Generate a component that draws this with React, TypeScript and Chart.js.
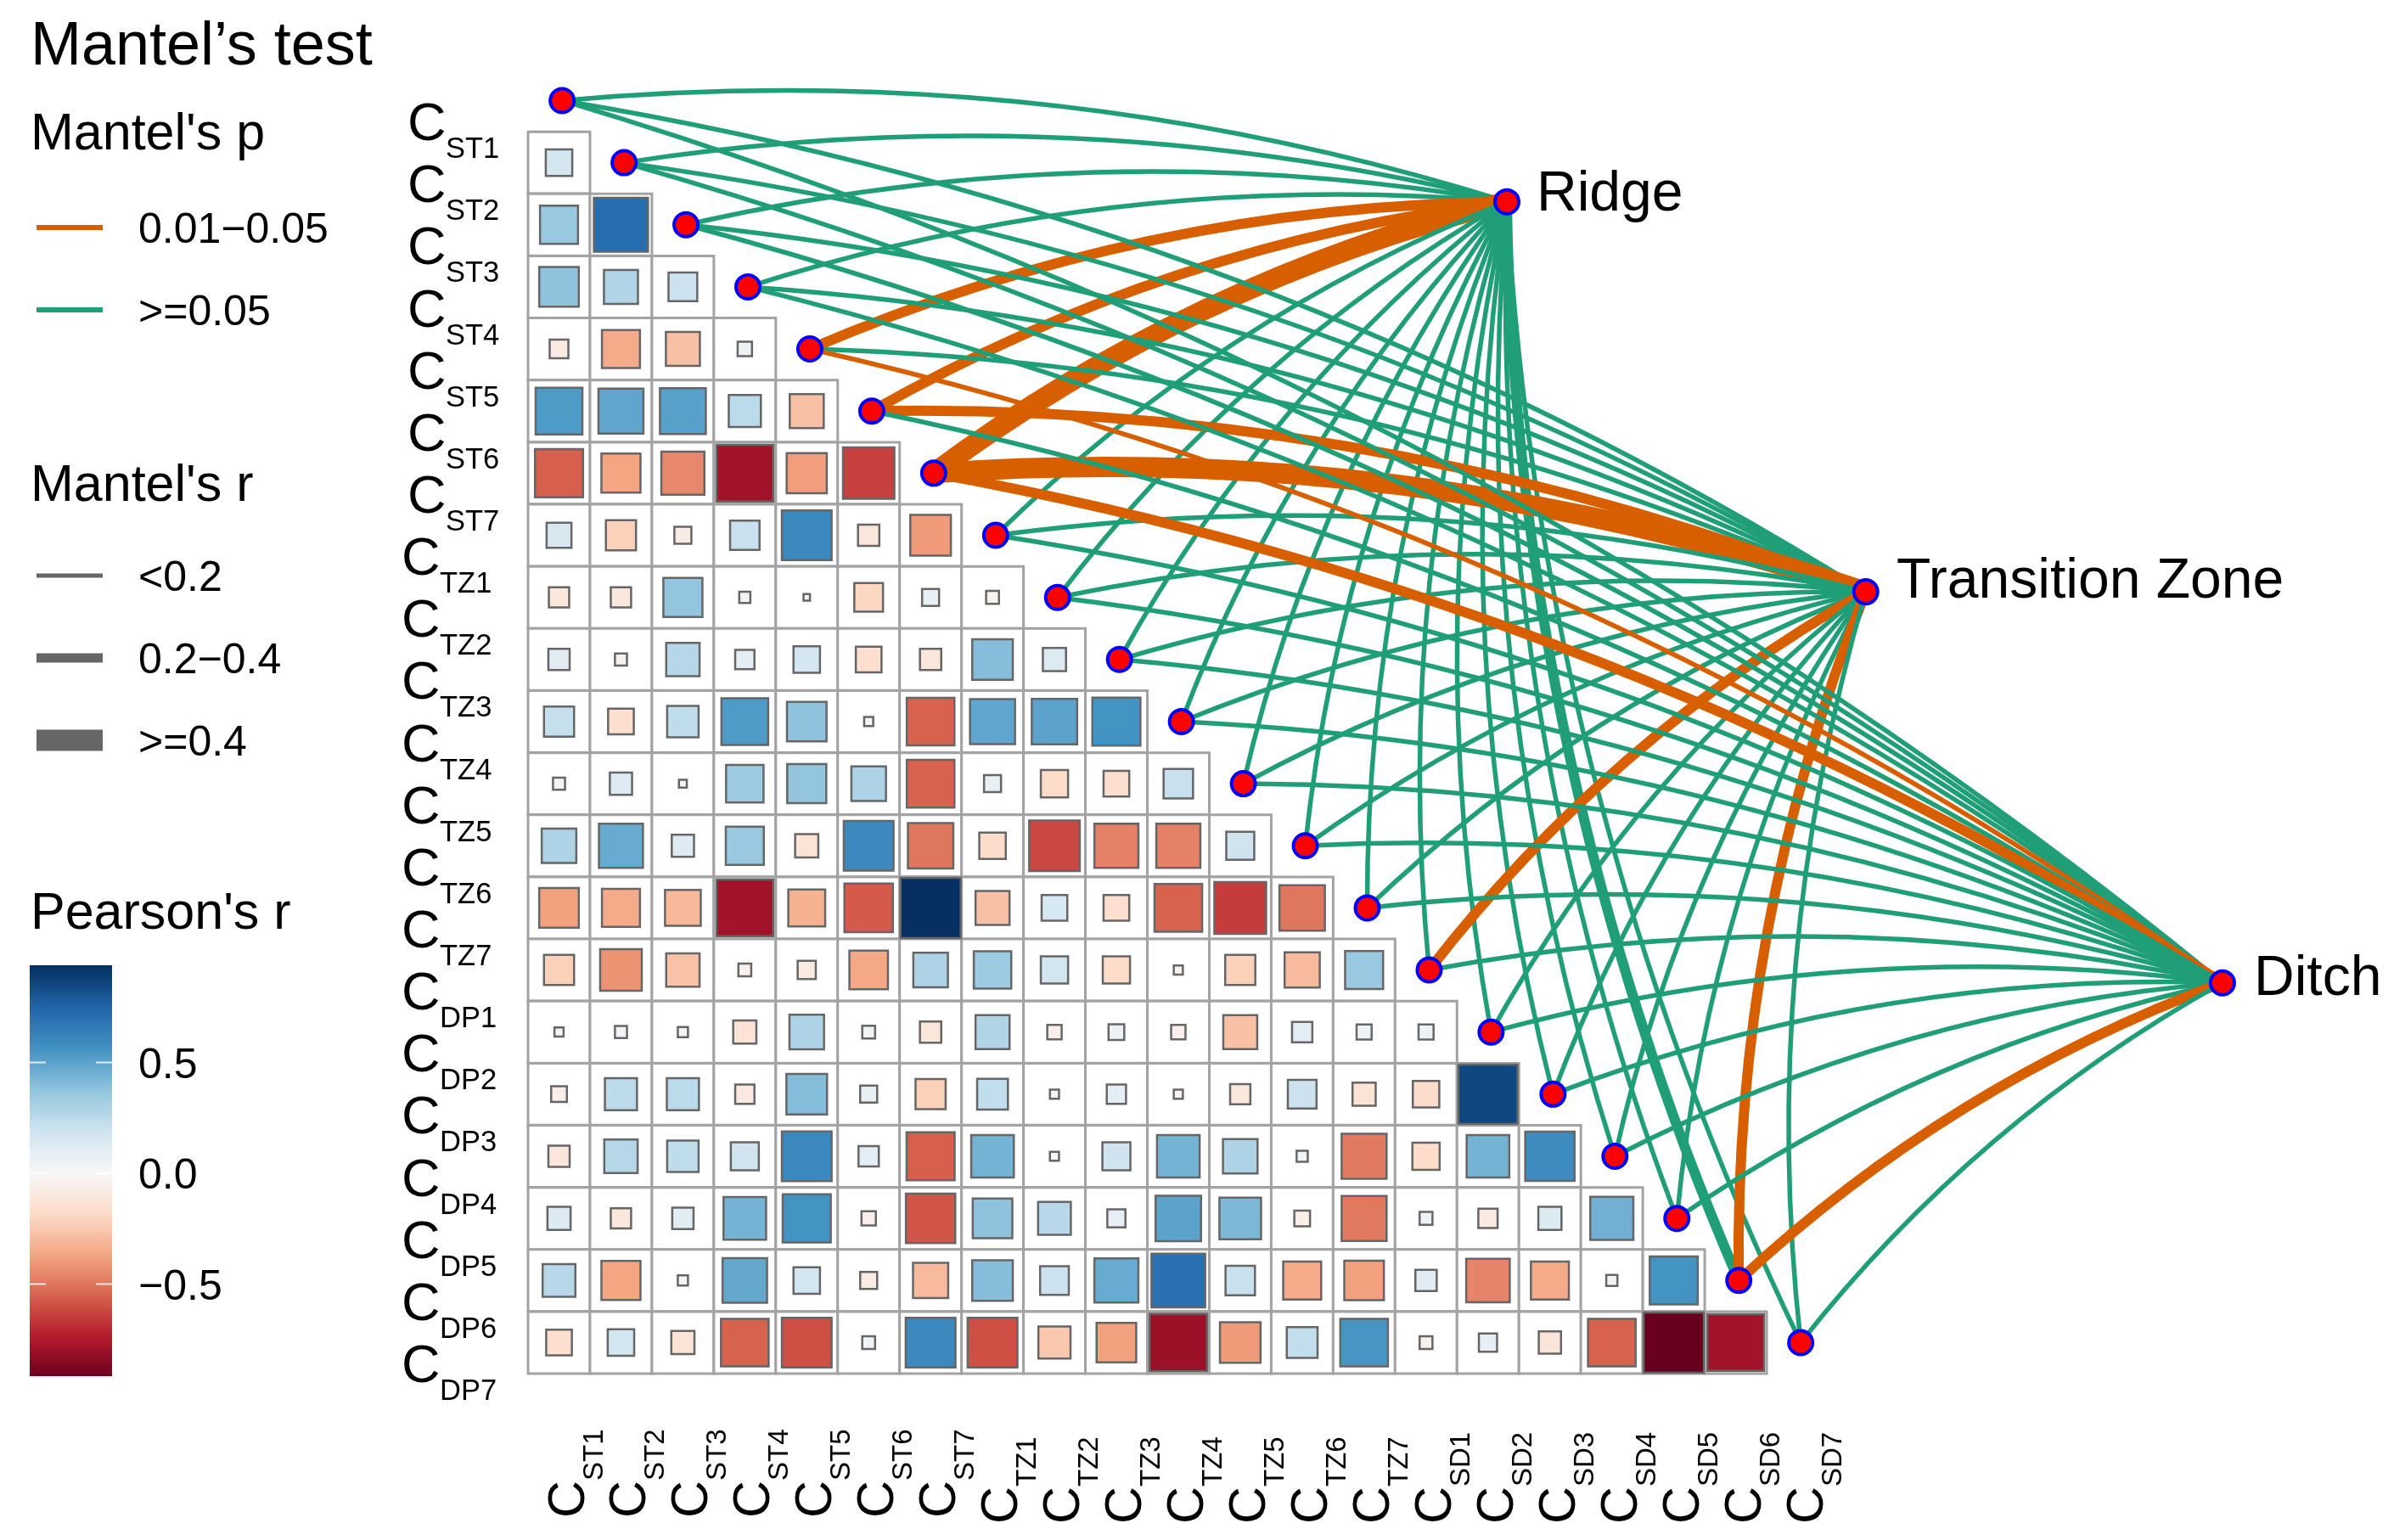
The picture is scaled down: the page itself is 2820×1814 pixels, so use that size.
import React, { useEffect, useRef } from "react";
import { Chart, registerables } from "chart.js";

Chart.register(...registerables);

// ---------- data ----------
const xCategories = ["ST1","ST2","ST3","ST4","ST5","ST6","ST7","TZ1","TZ2","TZ3","TZ4","TZ5","TZ6","TZ7","SD1","SD2","SD3","SD4","SD5","SD6","SD7"];
const yCategories = ["ST1","ST2","ST3","ST4","ST5","ST6","ST7","TZ1","TZ2","TZ3","TZ4","TZ5","TZ6","TZ7","DP1","DP2","DP3","DP4","DP5","DP6","DP7"];

// lower triangle of the Pearson matrix, one row per line of cells
const pearsonR = [
  [.17],
  [.35,.71],
  [.38,.28,.2],
  [-.085,-.35,-.28,.05],
  [.53,.49,.51,.25,-.28],
  [-.56,-.37,-.45,-.78,-.39,-.64],
  [.15,-.22,-.07,.21,.6,-.11,-.4],
  [-.1,-.1,.37,.03,.01,-.2,.07,-.04],
  [.11,-.035,.27,.09,.17,-.16,-.11,.4,.13],
  [.22,-.16,.24,.53,.38,-.02,-.55,.49,.5,.56],
  [.035,.12,.015,.34,.37,.29,-.55,.07,-.18,-.16,.21],
  [.29,.47,.12,.35,-.13,.6,-.5,-.17,-.62,-.47,-.47,.19],
  [-.38,-.35,-.31,-.78,-.33,-.57,.93,-.28,.16,-.16,-.55,-.65,-.5],
  [-.22,-.42,-.27,-.04,-.08,-.36,.29,.34,.18,-.18,-.02,-.22,-.3,.35],
  [.02,.035,.025,-.13,.29,.04,-.11,.28,-.05,.06,-.05,-.28,.1,.055,.055],
  [-.06,.25,.25,-.09,.4,.07,-.22,.23,.02,.09,-.02,-.1,.2,-.13,-.17,.85],
  [-.11,.27,.24,.19,.6,.1,-.56,.44,.02,.19,.44,.29,.03,-.49,-.18,.44,.59],
  [.13,-.1,.11,.44,.56,-.05,-.59,.38,.26,.08,.5,.42,-.06,-.49,.04,-.09,.13,.45],
  [.26,-.37,.025,.48,.17,-.07,-.3,.4,.2,.47,.7,.21,-.35,-.38,.11,-.46,-.35,.03,.56],
  [-.16,.17,-.13,-.55,-.6,.04,.6,-.6,-.25,-.38,-.8,-.4,.23,.55,-.04,.08,-.12,-.55,-.93,-.78],
];

const hubNames = ["Ridge", "Transition Zone", "Ditch"];
// Mantel's p class per node: 0 is 0.01-0.05, 1 is >=0.05
const ridgeP = [1,1,1,1,0,0,0,1,1,1,1,1,1,1,1,1,1,1,1,1,1];
const transitionP = [1,1,1,1,1,0,0,1,1,1,1,1,1,1,0,1,1,1,1,0,1];
const ditchP = [1,1,1,1,0,1,0,1,1,1,1,1,1,1,1,1,1,1,1,0,1];
// Mantel's r class per node: 0 is <0.2, 1 is 0.2-0.4, 2 is >=0.4
const ridgeR = [0,0,0,0,1,1,2,0,0,0,0,0,0,0,0,0,0,0,0,1,0];
const transitionR = [0,0,0,0,0,1,2,0,0,0,0,0,0,0,1,0,0,0,0,1,0];
const ditchR = [0,0,0,0,0,0,1,0,0,0,0,0,0,0,0,0,0,0,0,1,0];

const pLegendLabels = ["0.01−0.05", ">=0.05"];
const rLegendLabels = ["<0.2", "0.2−0.4", ">=0.4"];
const colorbarTicks = [0.5, 0, -0.5];
const colorbarTickLabels = ["0.5", "0.0", "−0.5"];

// ---------- styles & layout ----------
const W = 2820, H = 1814;
const CELL_X = 72.95, CELL_Y = 73.15;
const COL0 = 658.5, ROW0 = 191.6;
const FONT = '"Liberation Sans", Arial, sans-serif';
const ORANGE = "#d75f00", GREEN = "#1f9e77", GREY = "#666666";
const WIDTHS = [5.5, 12, 24];
const CURVE = 0.1;
const RANGE = 0.93;
const hubPos = [{ x: 15.305, y: 0.63 }, { x: 21.1, y: 6.91 }, { x: 26.86, y: 13.207 }];
const hubLabelPos = [[1810, 248], [2234, 704], [2655, 1172]];

const RDBU = ["#67001f","#b2182b","#d6604d","#f4a582","#fddbc7","#f7f7f7","#d1e5f0","#92c5de","#4393c3","#2166ac","#053061"];
const hex = (h: string) => [1, 3, 5].map((i) => parseInt(h.slice(i, i + 2), 16));
function rdbu(v: number) {
  const t = Math.max(0, Math.min(1, (v / RANGE + 1) / 2)) * (RDBU.length - 1);
  const i = Math.min(RDBU.length - 2, Math.floor(t));
  const a = hex(RDBU[i]), b = hex(RDBU[i + 1]), f = t - i;
  return `rgb(${a.map((c, k) => Math.round(c + (b[k] - c) * f)).join(",")})`;
}
const sideOf = (v: number) => Math.min(71, CELL_X * Math.sqrt(Math.abs(v) / RANGE));

const cellData = pearsonR.flatMap((row, r) => row.map((v, c) => ({ x: c, y: r, v })));
const nodeData = xCategories.map((_, i) => ({ x: i + 0.05, y: i - 1 }));

function linkDatasets() {
  const ps = [ridgeP, transitionP, ditchP];
  const rs = [ridgeR, transitionR, ditchR];
  const out: any[] = [];
  let order = 90;
  hubNames.forEach((_, h) => {
    xCategories.forEach((_, i) => {
      out.push({
        type: "line",
        label: `${xCategories[i]}-${hubNames[h]}`,
        data: [nodeData[i], hubPos[h]],
        borderColor: ps[h][i] === 0 ? ORANGE : GREEN,
        borderWidth: WIDTHS[rs[h][i]],
        pointRadius: 0,
        curved: true,
        order,
      });
      order -= 0.01;
    });
  });
  return out;
}

const curvedLinks = {
  id: "curvedLinks",
  beforeDatasetDraw(chart: any, args: any) {
    const ds = chart.data.datasets[args.index];
    if (!ds.curved) return true;
    const [a, b] = args.meta.data;
    const dx = b.x - a.x, dy = b.y - a.y;
    const c = chart.ctx;
    c.save();
    c.beginPath();
    c.moveTo(a.x, a.y);
    c.quadraticCurveTo((a.x + b.x) / 2 + dy * CURVE, (a.y + b.y) / 2 - dx * CURVE, b.x, b.y);
    c.strokeStyle = ds.borderColor;
    c.lineWidth = ds.borderWidth;
    c.lineCap = "butt";
    c.stroke();
    c.restore();
    return false;
  },
};

const annotations = {
  id: "annotations",
  afterDatasetsDraw(chart: any) {
    const c = chart.ctx;
    const { x: sx, y: sy } = chart.scales;
    const text = (s: string, size: number, x: number, y: number) => {
      c.font = `${size}px ${FONT}`;
      c.fillText(s, x, y);
    };
    c.save();
    c.fillStyle = "#000";
    c.textAlign = "left";
    c.textBaseline = "alphabetic";

    // axis labels
    yCategories.forEach((lab, i) => {
      const y = sy.getPixelForValue(i - 1) + 46.6;
      const left = i < 7 ? 480 : 473;
      text("C", 63, left, y);
      text(lab, 34.5, left + 45, y + 21);
    });
    xCategories.forEach((lab, i) => {
      const x = sx.getPixelForValue(i);
      const bottom = i < 7 ? 1788 : 1795;
      c.save();
      c.translate(x + 29, bottom);
      c.rotate(-Math.PI / 2);
      text("C", 61, 0, 0);
      text(lab, 33, 44, 22);
      c.restore();
    });

    // hub labels
    hubNames.forEach((n, i) => text(n, 66, hubLabelPos[i][0], hubLabelPos[i][1]));

    // legends
    text("Mantel’s test", 72, 36, 76);
    text("Mantel's p", 61, 36, 176);
    pLegendLabels.forEach((l, i) => {
      const y = 268 + i * 97;
      c.fillStyle = i === 0 ? ORANGE : GREEN;
      c.fillRect(43, y - 3, 78, 6);
      c.fillStyle = "#000";
      text(l, 50, 163, y + 18);
    });
    text("Mantel's r", 61, 36, 590);
    rLegendLabels.forEach((l, i) => {
      const y = 678 + i * 97;
      const th = [5, 11, 25][i];
      c.fillStyle = GREY;
      c.fillRect(43, y - th / 2, 78, th);
      c.fillStyle = "#000";
      text(l, 50, 163, y + 18);
    });
    text("Pearson's r", 61, 36, 1094);

    // colour bar
    const cbTop = 1137, cbBottom = 1621, zero = 1382, unit = 261;
    const toPx = (v: number) => zero - v * unit;
    const g = c.createLinearGradient(0, cbTop, 0, cbBottom);
    for (let k = 0; k <= 40; k++) {
      const py = cbTop + ((cbBottom - cbTop) * k) / 40;
      g.addColorStop(k / 40, rdbu((zero - py) / unit));
    }
    c.fillStyle = g;
    c.fillRect(35, cbTop, 97, cbBottom - cbTop);
    colorbarTicks.forEach((v, i) => {
      const y = toPx(v);
      c.fillStyle = "rgba(255,255,255,0.8)";
      c.fillRect(35, y - 1, 19, 2);
      c.fillRect(113, y - 1, 19, 2);
      c.fillStyle = "#000";
      text(colorbarTickLabels[i], 50, 163, y + 18);
    });
    c.restore();
  },
};

export default function App() {
  const ref = useRef<HTMLCanvasElement>(null);
  useEffect(() => {
    document.body.style.margin = "0";
    document.body.style.background = "#fff";
    const chart = new Chart(ref.current!, {
      type: "scatter",
      data: {
        datasets: [
          {
            label: "cells",
            data: cellData,
            pointStyle: "rect",
            pointRadius: CELL_X * Math.SQRT1_2,
            pointHoverRadius: CELL_X * Math.SQRT1_2,
            pointBackgroundColor: "#ffffff",
            pointBorderColor: "#a3a3a3",
            pointBorderWidth: 3,
            order: 100,
          },
          {
            label: "Pearson's r",
            data: cellData,
            pointStyle: "rect",
            pointRadius: (ctx: any) => sideOf(ctx.raw.v) * Math.SQRT1_2,
            pointBackgroundColor: (ctx: any) => rdbu(ctx.raw.v),
            pointBorderColor: "#666666",
            pointBorderWidth: 2.5,
            order: 99,
          },
          ...linkDatasets(),
          {
            label: "nodes",
            data: [...nodeData, ...hubPos],
            pointStyle: "circle",
            pointRadius: 14,
            pointBackgroundColor: "#ff0000",
            pointBorderColor: "#0000ff",
            pointBorderWidth: 4,
            order: 0,
          },
        ] as any,
      },
      options: {
        responsive: false,
        animation: false,
        devicePixelRatio: 1,
        layout: { padding: 0, autoPadding: false },
        plugins: { legend: { display: false }, tooltip: { enabled: false } },
        scales: {
          x: { type: "linear", display: false, min: -COL0 / CELL_X, max: (W - COL0) / CELL_X },
          y: { type: "linear", display: false, reverse: true, min: -ROW0 / CELL_Y, max: (H - ROW0) / CELL_Y },
        },
      } as any,
      plugins: [curvedLinks, annotations],
    });
    return () => chart.destroy();
  }, []);
  return (
    <div style={{ position: "absolute", left: 0, top: 0, width: W, height: H, background: "#fff" }}>
      <canvas ref={ref} width={W} height={H} style={{ display: "block", width: W, height: H }} />
    </div>
  );
}
